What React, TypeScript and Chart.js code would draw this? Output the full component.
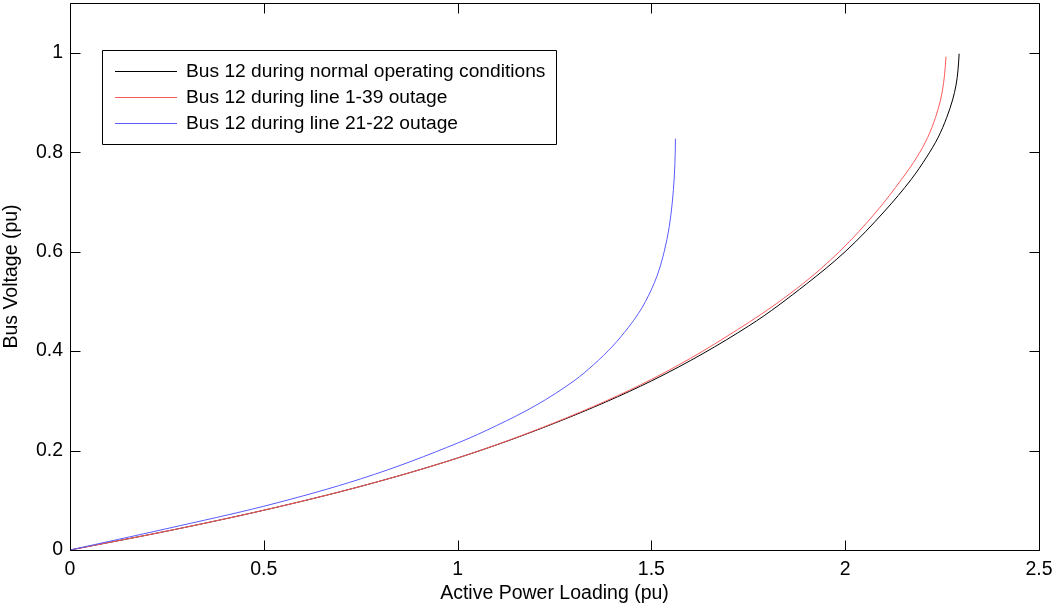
import React, { useEffect, useRef } from 'react';
import { Chart, registerables } from 'chart.js';

Chart.register(...registerables);

const X_TICKS = [0, 0.5, 1, 1.5, 2, 2.5];
const Y_TICKS = [0, 0.2, 0.4, 0.6, 0.8, 1];
const X_RANGE = [0, 2.5];
const Y_RANGE = [0, 1.1];

const X_TITLE = 'Active Power Loading (pu)';
const Y_TITLE = 'Bus Voltage (pu)';

const LABELS = [
  'Bus 12 during normal operating conditions',
  'Bus 12 during line 1-39 outage',
  'Bus 12 during line 21-22 outage',
];
const COLORS = ['#000000', '#ff5a5a', '#5a5aff'];

// Normal operating conditions
const normalP = [0, 0.25, 0.5, 0.75, 1.0, 1.25, 1.5, 1.75, 1.9, 2.0, 2.1, 2.17, 2.21, 2.24, 2.262, 2.277, 2.286, 2.291, 2.294];
const normalV = [0, 0.038, 0.08, 0.128, 0.185, 0.255, 0.34, 0.45, 0.535, 0.6, 0.68, 0.745, 0.79, 0.83, 0.87, 0.905, 0.935, 0.965, 0.998];

// Line 1-39 outage
const out139P = [0, 0.25, 0.5, 0.75, 1.0, 1.25, 1.5, 1.75, 1.89, 1.985, 2.08, 2.145, 2.185, 2.213, 2.233, 2.246, 2.254, 2.258, 2.26];
const out139V = [0, 0.038, 0.08, 0.128, 0.185, 0.256, 0.343, 0.457, 0.535, 0.6, 0.68, 0.745, 0.79, 0.83, 0.87, 0.905, 0.94, 0.97, 0.992];

// Line 21-22 outage
const out2122P = [0, 0.25, 0.5, 0.75, 1.0, 1.1, 1.2, 1.3, 1.35, 1.4, 1.44, 1.466, 1.485, 1.514, 1.533, 1.546, 1.554, 1.559, 1.5615, 1.562];
const out2122V = [0, 0.043, 0.088, 0.143, 0.215, 0.25, 0.29, 0.34, 0.372, 0.41, 0.447, 0.475, 0.5, 0.55, 0.6, 0.65, 0.7, 0.75, 0.8, 0.827];

const FONT = "'Liberation Sans', Arial, sans-serif";
const FS = 19.5;

const toPts = (xs: number[], ys: number[]) => xs.map((x, i) => ({ x, y: ys[i] }));

const zeroPad = (s: any) => {
  s.paddingTop = 0;
  s.paddingBottom = 0;
  s.paddingLeft = 0;
  s.paddingRight = 0;
};

const framePlugin = {
  id: 'frameAndLegend',
  afterDraw(chart: any) {
    const ctx = chart.ctx as CanvasRenderingContext2D;
    const { left, right, top, bottom } = chart.chartArea;
    const xs = chart.scales.x;
    const ys = chart.scales.y;
    const L = Math.round(left) + 0.5;
    const R = Math.round(right) + 0.5;
    const T = Math.round(top) + 0.5;
    const B = Math.round(bottom) + 0.5;
    const tl = 10;
    ctx.save();
    ctx.strokeStyle = '#000';
    ctx.lineWidth = 1;
    ctx.beginPath();
    ctx.rect(L, T, R - L, B - T);
    X_TICKS.forEach((v) => {
      const px = Math.round(xs.getPixelForValue(v)) + 0.5;
      ctx.moveTo(px, B);
      ctx.lineTo(px, B - tl);
      ctx.moveTo(px, T);
      ctx.lineTo(px, T + tl);
    });
    Y_TICKS.forEach((v) => {
      const py = Math.round(ys.getPixelForValue(v)) + 0.5;
      ctx.moveTo(L, py);
      ctx.lineTo(L + tl, py);
      ctx.moveTo(R, py);
      ctx.lineTo(R - tl, py);
    });
    ctx.stroke();

    // legend
    const bx = 102, by = 50, bw = 454, bh = 94;
    ctx.fillStyle = '#fff';
    ctx.fillRect(bx, by, bw, bh);
    ctx.beginPath();
    ctx.rect(bx + 0.5, by + 0.5, bw, bh);
    ctx.stroke();
    const rows = [71, 97, 123];
    ctx.font = `19.2px ${FONT}`;
    ctx.textBaseline = 'middle';
    ctx.textAlign = 'left';
    LABELS.forEach((lab, i) => {
      ctx.fillStyle = COLORS[i];
      ctx.fillRect(115, rows[i], 62, 1);
      ctx.fillStyle = '#000';
      ctx.fillText(lab, 186, rows[i] + 1);
    });
    ctx.restore();
  },
};

export default function App() {
  const ref = useRef<HTMLCanvasElement | null>(null);
  useEffect(() => {
    document.body.style.margin = '0';
    if (!ref.current) return;
    const series = [toPts(normalP, normalV), toPts(out139P, out139V), toPts(out2122P, out2122V)];
    const orders = [2, 1, 0];
    const chart = new Chart(ref.current, {
      type: 'line',
      data: {
        datasets: series.map((d, i) => ({
          label: LABELS[i],
          data: d,
          borderColor: COLORS[i],
          borderWidth: 1,
          pointRadius: 0,
          cubicInterpolationMode: 'monotone',
          fill: false,
          order: orders[i],
        })),
      },
      options: {
        animation: false,
        responsive: false,
        events: [],
        indexAxis: 'y',
        layout: { padding: { top: 3, right: 15, left: 0, bottom: 0 } },
        plugins: { legend: { display: false }, tooltip: { enabled: false } },
        scales: {
          x: {
            type: 'linear',
            position: 'bottom',
            min: X_RANGE[0],
            max: X_RANGE[1],
            afterBuildTicks: (s: any) => { s.ticks = X_TICKS.map((v) => ({ value: v })); },
            afterFit: (s: any) => { s.height = 56; zeroPad(s); },
            grid: { display: false, drawTicks: false },
            border: { display: false },
            ticks: {
              color: '#000',
              font: { family: FONT, size: FS },
              padding: 8,
              maxRotation: 0,
              callback: (v: any) => String(v),
            },
            title: {
              display: true,
              text: X_TITLE,
              color: '#000',
              font: { family: FONT, size: FS },
              padding: { top: 0, bottom: 1 },
            },
          },
          y: {
            type: 'linear',
            position: 'left',
            min: Y_RANGE[0],
            max: Y_RANGE[1],
            afterBuildTicks: (s: any) => { s.ticks = Y_TICKS.map((v) => ({ value: v })); },
            afterFit: (s: any) => { s.width = 70; zeroPad(s); },
            grid: { display: false, drawTicks: false },
            border: { display: false },
            ticks: {
              color: '#000',
              font: { family: FONT, size: FS },
              padding: 7,
              callback: (v: any) => String(v),
            },
            title: {
              display: true,
              text: Y_TITLE,
              color: '#000',
              font: { family: FONT, size: FS },
              padding: { top: 0, bottom: 0 },
            },
          },
        },
      },
      plugins: [framePlugin],
    } as any);
    return () => chart.destroy();
  }, []);
  return <canvas ref={ref} width={1054} height={606} style={{ display: 'block' }} />;
}
